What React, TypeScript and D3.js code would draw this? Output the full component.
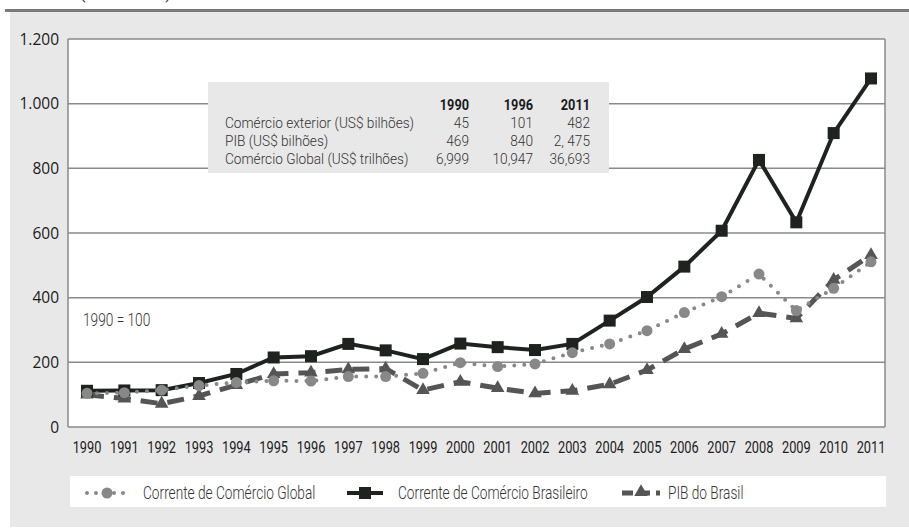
import React from "react";
import * as d3 from "d3";

const years = [1990, 1991, 1992, 1993, 1994, 1995, 1996, 1997, 1998, 1999, 2000, 2001, 2002, 2003, 2004, 2005, 2006, 2007, 2008, 2009, 2010, 2011];
const comercioGlobal = [104, 106, 114, 128, 138, 143, 142, 156, 156, 166, 199, 187, 195, 230, 257, 298, 354, 403, 473, 360, 429, 511];
const comercioBrasileiro = [112, 113, 114, 136, 164, 215, 219, 257, 237, 210, 258, 247, 238, 257, 329, 402, 496, 607, 826, 633, 909, 1078];
const pibBrasil = [100, 88, 72, 96, 130, 164, 168, 178, 181, 114, 140, 120, 104, 112, 132, 176, 241, 288, 352, 336, 455, 532];
const yTicks = [0, 200, 400, 600, 800, 1000, 1200];
const seriesNames = ["Corrente de Comércio Global", "Corrente de Comércio Brasileiro", "PIB do Brasil"];
const tableHeaders = ["1990", "1996", "2011"];
const tableRows = ["Comércio exterior (US$ bilhões)", "PIB (US$ bilhões)", "Comércio Global (US$ trilhões)"];
const tableValues = [
  ["45", "101", "482"],
  ["469", "840", "2, 475"],
  ["6,999", "10,947", "36,693"],
];
const baseNote = "1990 = 100";

const W = 909;
const H = 528;
const plot = { left: 68, right: 885, top: 39, bottom: 427 };
const narrow = "Roboto, 'DejaVu Sans', sans-serif";

const fmt = (v: number) => (v >= 1000 ? d3.format(",")(v).replace(",", ".") : String(v));

function NText({ x, y, anchor = "start", size = 18, sx = 0.76, weight = 300, fill = "#333", children }: any) {
  return (
    <text
      transform={`translate(${x},${y}) scale(${sx},1)`}
      textAnchor={anchor}
      fontFamily={narrow}
      fontSize={size}
      fontWeight={weight}
      fill={fill}
    >
      {children}
    </text>
  );
}

export default function App() {
  const x = d3.scaleLinear().domain([1990, 2011]).range([87, 871]);
  const y = d3.scaleLinear().domain([0, 1200]).range([plot.bottom, plot.top]);
  const line = (vals: number[]) =>
    d3.line<number>().x((_, i) => x(years[i])).y((d) => y(d))(vals) || "";
  const tri = d3.symbol().type(d3.symbolTriangle).size(80)() || "";

  const tableX = 208;
  const tableY = 82;
  const colRight = [469, 533, 590];

  return (
    <svg width={W} height={H} style={{ position: "absolute", left: 0, top: 0, background: "#fff" }}>
      <rect x={0} y={0} width={W} height={H} fill="#fff" />
      <text x={80} y={-1} fontFamily={narrow} fontSize={16} fill="#333">(1990 = 100)</text>
      <rect x={10} y={12} width={W - 10} height={515} fill="#e8e8e8" />
      <rect x={5} y={9} width={W - 5} height={3} fill="#7a7a7a" />

      {/* plot area */}
      <rect x={plot.left} y={plot.top} width={plot.right - plot.left} height={plot.bottom - plot.top} fill="#fff" />
      {yTicks.map((t) => (
        <g key={t}>
          <line x1={plot.left} x2={plot.right} y1={y(t)} y2={y(t)} stroke="#8a8a8a" strokeWidth={1.5} />
          <text x={59} y={y(t) + 5.5} textAnchor="end" fontFamily="'Open Sans', sans-serif" fontSize={15.5} fill="#1a1a1a">
            {fmt(t)}
          </text>
        </g>
      ))}
      <line x1={plot.left} x2={plot.left} y1={plot.top} y2={plot.bottom} stroke="#8a8a8a" strokeWidth={1.5} />
      <line x1={plot.right} x2={plot.right} y1={plot.top} y2={plot.bottom} stroke="#8a8a8a" strokeWidth={1.5} />

      {/* x labels */}
      {years.map((yr) => (
        <NText key={yr} x={x(yr)} y={453} anchor="middle" size={16} sx={0.8} weight={400} fill="#222">
          {yr}
        </NText>
      ))}

      {/* table box */}
      <rect x={tableX} y={tableY} width={401} height={91} fill="#e8e8e8" />
      {tableHeaders.map((h, j) => (
        <NText key={h} x={colRight[j]} y={110} anchor="end" size={15} sx={0.85} weight={700} fill="#1a1a1a">
          {h}
        </NText>
      ))}
      {tableRows.map((r, i) => (
        <g key={r}>
          <NText x={225} y={128 + i * 17.8} size={15} sx={0.91}>{r}</NText>
          {tableValues[i].map((v, j) => (
            <NText key={j} x={colRight[j]} y={128 + i * 17.8} anchor="end" size={15} sx={0.91}>
              {v}
            </NText>
          ))}
        </g>
      ))}

      <NText x={83} y={326}>{baseNote}</NText>

      {/* series */}
      <path d={line(pibBrasil)} fill="none" stroke="#555" strokeWidth={5} strokeDasharray="17 10" />
      {pibBrasil.map((v, i) => (
        <path key={i} d={tri} transform={`translate(${x(years[i])},${y(v)})`} fill="#555" />
      ))}
      <path d={line(comercioBrasileiro)} fill="none" stroke="#1e2320" strokeWidth={4} />
      {comercioBrasileiro.map((v, i) => (
        <rect key={i} x={x(years[i]) - 6} y={y(v) - 6} width={12} height={12} fill="#1e2320" />
      ))}
      <path d={line(comercioGlobal)} fill="none" stroke="#888" strokeWidth={4} strokeLinecap="round" strokeDasharray="0 10" />
      {comercioGlobal.map((v, i) => (
        <circle key={i} cx={x(years[i])} cy={y(v)} r={5.5} fill="#888" />
      ))}

      {/* legend */}
      <rect x={70} y={476} width={816} height={31} fill="#fff" />
      <line x1={87} x2={130} y1={493} y2={493} stroke="#888" strokeWidth={4} strokeLinecap="round" strokeDasharray="0 9" />
      <circle cx={107} cy={493} r={5.5} fill="#888" />
      <NText x={143} y={499}>{seriesNames[0]}</NText>
      <line x1={347} x2={383} y1={493} y2={493} stroke="#1e2320" strokeWidth={4} />
      <rect x={359} y={487} width={12} height={12} fill="#1e2320" />
      <NText x={398} y={499}>{seriesNames[1]}</NText>
      <line x1={622} x2={660} y1={493} y2={493} stroke="#555" strokeWidth={5} strokeDasharray="11 6" />
      <path d={tri} transform={`translate(641,492)`} fill="#555" />
      <NText x={668} y={499}>{seriesNames[2]}</NText>
    </svg>
  );
}
